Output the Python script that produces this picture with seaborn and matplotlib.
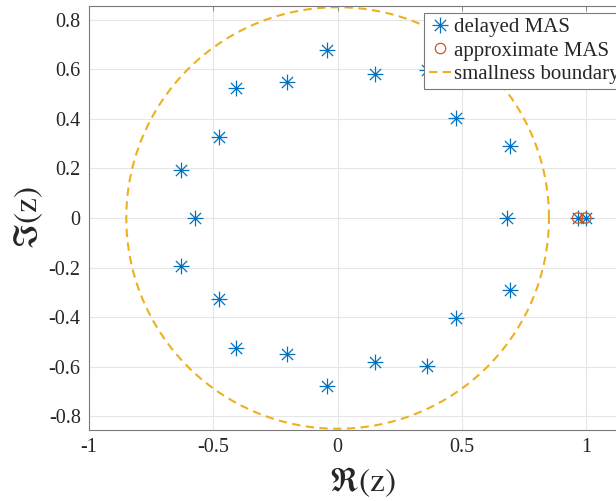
import numpy as np
import pandas as pd
import matplotlib
matplotlib.use("Agg")
import matplotlib.pyplot as plt
from matplotlib.path import Path
from matplotlib.lines import Line2D
import seaborn as sns

# Eigenvalues of the delayed MAS (upper half, mirrored below) plus the real ones
delayed_re_upper = [-0.630, -0.478, -0.410, -0.205, -0.044, 0.149, 0.361, 0.478, 0.695]
delayed_im_upper = [0.195, 0.327, 0.524, 0.550, 0.677, 0.582, 0.598, 0.404, 0.292]
delayed_re_real = [-0.574, 0.680, 0.965, 0.998]

# Eigenvalues of the approximate MAS
approx_re = [0.965, 0.998]
approx_im = [0.0, 0.0]

# Radius of the smallness boundary circle
boundary_radius = 0.85

x_ticks = [-1, -0.5, 0, 0.5, 1]
y_ticks = [-0.8, -0.6, -0.4, -0.2, 0, 0.2, 0.4, 0.6, 0.8]

BLUE = "#0072BD"
ORANGE = "#D95319"
YELLOW = "#EDB120"
SPINE = "#7a7a7a"
TEXT = "#262626"

delayed = pd.DataFrame({
    "re": delayed_re_upper + delayed_re_upper + delayed_re_real,
    "im": delayed_im_upper + [-v for v in delayed_im_upper] + [0.0] * len(delayed_re_real),
})
approx = pd.DataFrame({"re": approx_re, "im": approx_im})
theta = np.linspace(0, 2 * np.pi, 400)
boundary = pd.DataFrame({"re": boundary_radius * np.cos(theta),
                         "im": boundary_radius * np.sin(theta)})

sns.set_style("white")
plt.rcParams["font.family"] = ["Liberation Serif", "DejaVu Serif"]
plt.rcParams["mathtext.fontset"] = "stix"

# Eight-armed asterisk marker
arms = []
codes = []
for ang in np.arange(0, 180, 45):
    a = np.deg2rad(ang)
    arms += [(-np.cos(a), -np.sin(a)), (np.cos(a), np.sin(a))]
    codes += [Path.MOVETO, Path.LINETO]
asterisk = Path(arms, codes)

fig = plt.figure(figsize=(6.16, 5.01), dpi=100)
ax = fig.add_axes([89 / 616, 71 / 501, 547 / 616, 424 / 501])

sns.lineplot(data=boundary, x="re", y="im", sort=False, estimator=None, ax=ax,
             color=YELLOW, linewidth=1.5, linestyle=(0, (4, 2.6)), zorder=2)
sns.scatterplot(data=delayed, x="re", y="im", ax=ax, marker=asterisk, s=130,
                color=BLUE, edgecolor=BLUE, linewidth=0.9, zorder=3)
sns.scatterplot(data=approx, x="re", y="im", ax=ax, marker="o", s=55,
                facecolor="none", edgecolor=ORANGE, linewidth=0.9, zorder=4)

ax.set_xlim(-1, 1.2)
ax.set_ylim(-0.855, 0.855)
ax.set_xticks(x_ticks)
ax.set_xticklabels(["-1", "-0.5", "0", "0.5", "1"])
ax.set_yticks(y_ticks)
ax.set_yticklabels(["-0.8", "-0.6", "-0.4", "-0.2", "0", "0.2", "0.4", "0.6", "0.8"])
ax.grid(True, color="#e6e6e6", linewidth=0.8)
ax.set_axisbelow(True)
for sp in ax.spines.values():
    sp.set_color(SPINE)
    sp.set_linewidth(0.8)
ax.tick_params(direction="in", length=3.5, width=0.6, color=SPINE,
               labelsize=14.5, labelcolor=TEXT, top=True, right=True, pad=6)

ax.set_xlabel(r"$\Re\mathrm{(z)}$", fontsize=24, color=TEXT, labelpad=6)
ax.set_ylabel(r"$\Im\mathrm{(z)}$", fontsize=24, color=TEXT, labelpad=3)

handles = [
    Line2D([], [], linestyle="none", marker=asterisk, markersize=11.5,
           markeredgewidth=0.9, color=BLUE),
    Line2D([], [], linestyle="none", marker="o", markersize=7.5,
           markerfacecolor="none", markeredgewidth=0.9, markeredgecolor=ORANGE),
    Line2D([], [], color=YELLOW, linewidth=1.5, linestyle=(0, (4, 2.6))),
]
labels = ["delayed MAS", "approximate MAS", "smallness boundary"]
leg = ax.legend(handles, labels, loc="upper left", bbox_to_anchor=(0.613, 0.984),
                fontsize=15, frameon=True, fancybox=False, framealpha=1,
                edgecolor=SPINE, handlelength=1.1, handletextpad=0.1,
                labelspacing=0.2, borderpad=0.22, borderaxespad=0)
leg.get_frame().set_linewidth(0.8)

fig.savefig("out.png", dpi=100)
